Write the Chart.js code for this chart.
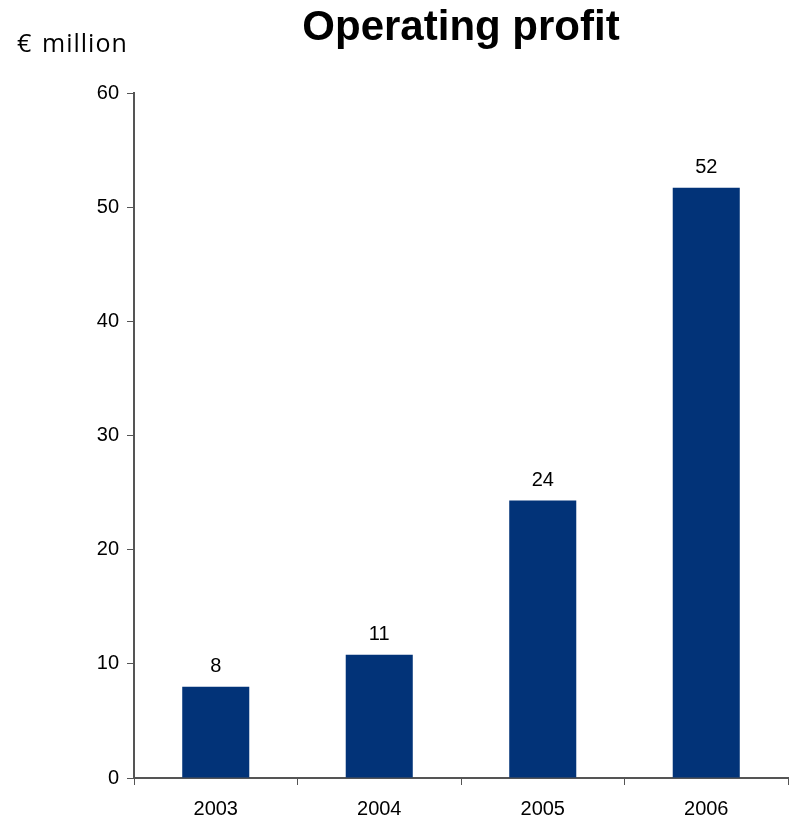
<!DOCTYPE html>
<html>
<head>
<meta charset="utf-8">
<script src="https://cdn.jsdelivr.net/npm/chart.js@4"></script>
<style>
  html, body { margin: 0; padding: 0; background: #fff; }
  #wrap { width: 796px; height: 821px; }
</style>
</head>
<body>
<div id="wrap"><canvas id="profit-chart"></canvas></div>
<script>
// Operating profit, € million
const years = ["2003", "2004", "2005", "2006"];
const profit = [8.0, 10.8, 24.3, 51.7];
const profitLabels = ["8", "11", "24", "52"];
const yTicks = [0, 10, 20, 30, 40, 50, 60];

const barColor = "#023378";
const axisColor = "#555555";
const fontFamily = "'Liberation Sans', Arial, sans-serif";

// value labels above each bar
const valueLabels = {
  id: "valueLabels",
  afterDatasetsDraw(chart) {
    const ctx = chart.ctx;
    const meta = chart.getDatasetMeta(0);
    ctx.save();
    ctx.font = "20px " + fontFamily;
    ctx.fillStyle = "#000";
    ctx.textAlign = "center";
    ctx.textBaseline = "bottom";
    meta.data.forEach((bar, i) => {
      ctx.fillText(profitLabels[i], bar.x, bar.y - 10);
    });
    ctx.restore();
  },
};

// heading centred over the plot, unit caption top-left
const headings = {
  id: "headings",
  afterDraw(chart) {
    const ctx = chart.ctx;
    const area = chart.chartArea;
    ctx.save();
    ctx.fillStyle = "#000";
    ctx.textBaseline = "alphabetic";

    ctx.font = "bold 42px " + fontFamily;
    ctx.textAlign = "center";
    ctx.fillText("Operating profit", (area.left + area.right) / 2, 40);

    ctx.font = "25px 'Open Sans', sans-serif";
    ctx.textAlign = "left";
    ctx.fillText("€", 17, 52);
    ctx.letterSpacing = "1px";
    ctx.fillText("million", 42, 52);
    ctx.restore();
  },
};

new Chart(document.getElementById("profit-chart").getContext("2d"), {
  type: "bar",
  data: {
    labels: years,
    datasets: [
      {
        data: profit,
        backgroundColor: barColor,
        barPercentage: 0.82,
        categoryPercentage: 0.5,
      },
    ],
  },
  options: {
    responsive: true,
    maintainAspectRatio: false,
    animation: false,
    layout: { padding: { left: 0, right: 8, top: 93, bottom: 0 } },
    plugins: {
      legend: { display: false },
      tooltip: { enabled: false },
      title: { display: false },
    },
    scales: {
      x: {
        afterFit(scale) {
          scale.height = 43;
        },
        grid: {
          offset: true,
          drawOnChartArea: false,
          drawTicks: true,
          tickLength: 7,
          color: axisColor,
        },
        border: { color: axisColor, width: 2 },
        ticks: {
          color: "#000",
          font: { family: fontFamily, size: 20 },
          padding: 12,
        },
      },
      y: {
        min: 0,
        max: 60,
        afterBuildTicks(scale) {
          scale.ticks = yTicks.map((v) => ({ value: v }));
        },
        afterFit(scale) {
          scale.width = 134;
        },
        grid: {
          drawOnChartArea: false,
          drawTicks: true,
          tickLength: 7,
          color: axisColor,
        },
        border: { color: axisColor, width: 2 },
        ticks: {
          color: "#000",
          font: { family: fontFamily, size: 20 },
          padding: 8,
        },
      },
    },
  },
  plugins: [valueLabels, headings],
});
</script>
</body>
</html>
